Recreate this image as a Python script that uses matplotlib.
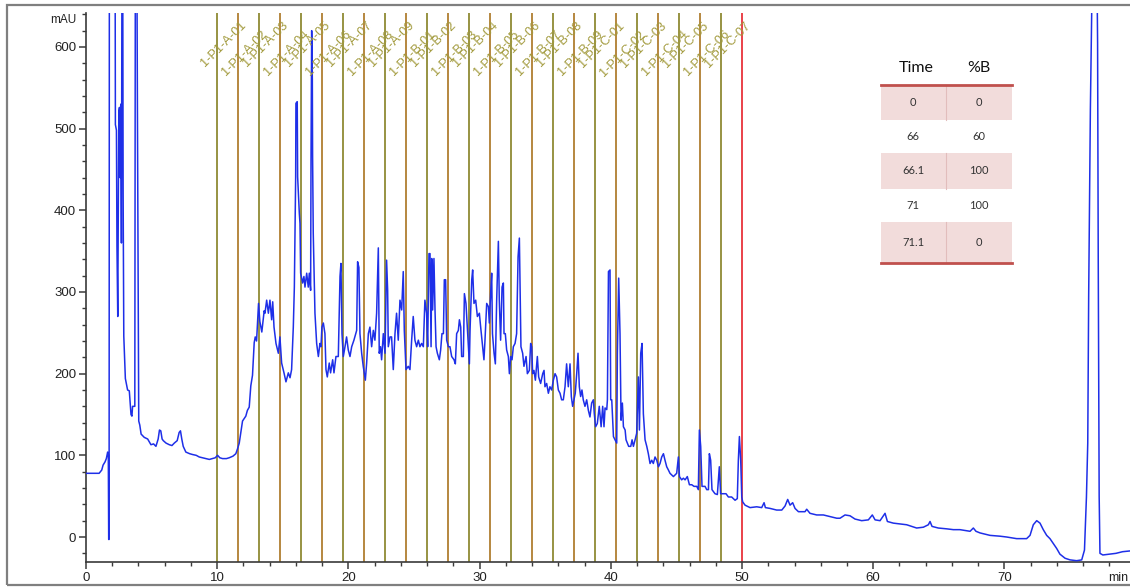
import matplotlib
matplotlib.use("Agg")
import matplotlib.pyplot as plt
from matplotlib.patches import Rectangle
from matplotlib.lines import Line2D
from matplotlib.ticker import MultipleLocator

# ---------------- data ----------------
time_min = [
    0.0, 1.0, 1.1, 1.2, 1.3, 1.45, 1.55, 1.65, 1.7, 1.73, 1.76, 1.78, 2.22, 2.24, 2.32, 2.36, 2.42, 2.45,
    2.5, 2.55, 2.6, 2.65, 2.7, 2.74, 2.8, 2.83, 2.88, 3.0, 3.17, 3.3, 3.43, 3.5, 3.55, 3.72, 3.76, 3.88,
    3.92, 3.98, 4.02, 4.1, 4.2, 4.44, 4.7, 4.95, 5.15, 5.33, 5.5, 5.6, 5.7, 5.8, 5.89, 6.1, 6.35, 6.55,
    6.73, 6.95, 7.1, 7.2, 7.3, 7.41, 7.61, 7.9, 8.12, 8.4, 8.63, 8.9, 9.14, 9.4, 9.64, 9.85, 10.03, 10.2,
    10.41, 10.7, 10.91, 11.2, 11.42, 11.55, 11.68, 11.8, 11.93, 12.05, 12.18, 12.3, 12.44, 12.56, 12.69,
    12.82, 12.9, 13.0, 13.15, 13.25, 13.4, 13.58,
    13.64, 13.77, 13.90, 14.02, 14.15, 14.23, 14.33, 14.48, 14.66, 14.78, 14.91, 15.09, 15.24, 15.42,
    15.55, 15.67, 15.80, 15.88, 15.98, 16.00, 16.10, 16.13, 16.26, 16.31, 16.36, 16.51, 16.61, 16.69,
    16.82, 16.94, 17.02, 17.12, 17.15, 17.20, 17.25, 17.27, 17.32, 17.45, 17.58, 17.71, 17.83, 17.91,
    17.98, 18.09, 18.21, 18.29, 18.39, 18.54, 18.64, 18.80, 18.90, 19.05, 19.23, 19.36, 19.43, 19.51,
    19.61, 19.74, 19.86, 19.99, 20.12, 20.25, 20.42, 20.63, 20.70, 20.80, 20.88, 21.01, 21.13, 21.29,
    21.39, 21.52, 21.64, 21.77, 21.90, 22.02, 22.15, 22.28, 22.35, 22.45, 22.53, 22.66, 22.79, 22.91,
    22.99, 23.04, 23.17, 23.29, 23.42, 23.55, 23.67, 23.80, 23.93, 24.06, 24.18, 24.26, 24.39, 24.56,
    24.69, 24.82, 24.94, 25.07, 25.20, 25.33, 25.45, 25.58, 25.71, 25.83, 25.96, 26.04, 26.14,
    26.22, 26.30, 26.35, 26.42, 26.52, 26.60, 26.68, 26.78, 26.93, 27.03, 27.13, 27.24, 27.31, 27.41,
    27.49, 27.62, 27.74, 27.87, 28.05, 28.15, 28.25, 28.38, 28.46, 28.56, 28.63, 28.76, 28.84, 28.96,
    29.06, 29.22, 29.27, 29.40, 29.47, 29.57, 29.70, 29.83, 29.98, 30.08, 30.23, 30.33, 30.41, 30.54,
    30.67, 30.74, 30.84, 30.92, 30.98, 31.10, 31.20, 31.30, 31.43, 31.50, 31.60, 31.71, 31.81, 31.86,
    31.96, 32.06, 32.19, 32.27, 32.37, 32.47, 32.57, 32.70, 32.82, 32.93, 33.03, 33.08, 33.15, 33.28,
    33.38, 33.54, 33.64, 33.79, 33.89, 33.97, 34.04, 34.14, 34.25, 34.40, 34.50, 34.65, 34.81, 34.91,
    34.98, 35.11, 35.24, 35.36, 35.49, 35.62, 35.75, 35.87, 36.00, 36.13, 36.25, 36.38, 36.51, 36.63,
    36.76, 36.89, 36.99, 37.09, 37.19, 37.29, 37.40, 37.50, 37.60, 37.70, 37.80, 37.90, 38.03, 38.16,
    38.29, 38.41, 38.54, 38.67, 38.74, 38.84, 38.97, 39.12,
    39.26, 39.38, 39.48, 39.56, 39.69, 39.74, 39.82, 39.94, 39.99, 40.07, 40.20, 40.32, 40.45, 40.50,
    40.60, 40.70, 40.78, 40.88, 40.96, 41.09, 41.16, 41.26, 41.36, 41.52, 41.62, 41.72, 41.85, 41.97,
    42.10, 42.18, 42.28, 42.38, 42.48, 42.61, 42.74, 42.86, 42.99, 43.12, 43.24, 43.37, 43.50, 43.63,
    43.75, 43.88, 44.01, 44.13, 44.26, 44.39, 44.51, 44.77, 45.02, 45.15, 45.23, 45.40, 45.53, 45.66,
    45.83, 45.99, 46.17, 46.34, 46.55, 46.67, 46.75, 46.85, 46.95, 47.18, 47.31, 47.44, 47.51, 47.61,
    47.71, 47.94, 48.12, 48.27, 48.37, 48.58, 48.78, 48.96, 49.21, 49.47, 49.64, 49.72, 49.80, 49.90,
    49.98, 50.05, 50.23, 50.48,
    50.61, 51.12, 51.50, 51.68, 51.78, 52.14, 52.64, 53.03, 53.28, 53.48, 53.66, 53.86, 54.04, 54.30,
    54.80, 54.93, 55.18, 55.69, 56.20, 56.71, 57.22, 57.47, 57.85, 58.23, 58.61, 59.12, 59.63, 59.93,
    60.14, 60.52, 60.77, 60.90, 61.08, 61.53, 62.04, 62.55, 63.31, 63.82, 64.20, 64.33, 64.48, 64.96,
    65.60, 66.11, 66.61, 67.38, 67.63, 67.83, 68.14, 68.90, 69.66, 70.17, 70.93, 71.69, 71.95, 72.20,
    72.46, 72.71, 72.96, 73.22, 73.47, 73.73, 73.98, 74.23, 74.62, 75.00, 75.50, 75.89, 76.10, 76.25,
    76.35, 76.42, 76.55, 76.70, 77.05, 77.10, 77.15, 77.22, 77.28, 77.50, 78.00, 78.50, 79.00, 79.60,
]
absorbance_mAU = [
    78, 78, 80, 82, 88, 92, 96, 104, 101, -3, -3, 700, 700, 505, 498, 356, 270, 356,
    520, 526, 440, 530, 360, 700, 700, 421, 246, 194, 180, 179, 150, 148, 160, 160, 700, 700,
    522, 300, 142, 137, 126, 122, 120, 113, 114, 111, 120, 131, 130, 120, 118, 115, 113, 112,
    115, 118, 128, 130, 120, 111, 104, 102, 101, 100, 98, 97, 96, 95, 96, 97, 100, 97,
    96, 96, 97, 99, 102, 108, 115, 128, 142, 145, 148, 155, 159, 185, 198,
    238, 245, 240, 286, 264, 251, 277,
    274, 290, 274, 290, 266, 288, 257, 237, 225, 245, 213, 201, 190, 201,
    195, 205, 257, 306, 441, 531, 533, 441, 396, 384, 323, 311, 319, 306,
    323, 306, 323, 302, 462, 620, 560, 466, 372, 274, 237, 221, 237, 233,
    257, 262, 249, 205, 196, 213, 201, 217, 201, 221, 221, 319, 335, 249,
    221, 233, 245, 229, 221, 233, 241, 253, 337, 330, 249, 225, 209, 192,
    213, 249, 257, 233, 253, 241, 274, 354, 225, 233, 217, 249, 225, 339,
    302, 233, 245, 245, 205, 249, 274, 241, 290, 278, 325, 253, 205, 209,
    205, 241, 270, 241, 233, 241, 233, 237, 233, 290, 274, 233, 347,
    347, 233, 341, 278, 341, 278, 233, 225, 217, 229, 249, 249, 315, 315,
    241, 233, 233, 221, 217, 212, 249, 253, 266, 257, 221, 221, 298, 286,
    257, 212, 253, 315, 327, 286, 290, 270, 274, 257, 233, 217, 241, 286,
    282, 262, 298, 323, 249, 225, 212, 290, 362, 290, 241, 306, 311, 249,
    249, 229, 221, 200, 221, 217, 233, 237, 249, 343, 366, 311, 233, 225,
    209, 221, 200, 204, 237, 233, 200, 204, 192, 221, 196, 188, 200, 204,
    184, 188, 176, 184, 180, 192, 200, 196, 180, 176, 168, 168, 184, 212,
    184, 212, 172, 160, 168, 176, 200, 225, 184, 172, 180, 168, 160, 168,
    155, 147, 164, 168, 151, 135, 139, 160,
    135, 160, 135, 158, 156, 168, 325, 327, 168, 168, 123, 119, 115, 225,
    317, 249, 143, 164, 135, 131, 119, 115, 111, 111, 119, 111, 119, 127,
    196, 131, 225, 237, 151, 119, 111, 102, 90, 94, 90, 98, 94, 86,
    90, 98, 102, 94, 86, 82, 78, 74, 78, 98, 74, 70, 72, 70,
    74, 64, 64, 62, 62, 58, 131, 111, 62, 62, 58, 58, 102, 94,
    58, 53, 52, 86, 53, 53, 53, 49, 49, 45, 47, 94, 123, 94,
    49, 43, 39, 37,
    36, 37, 36, 42, 36, 35, 33, 33, 38, 46, 39, 42, 35, 31,
    31, 34, 29, 27, 27, 25, 23, 23, 27, 26, 22, 20, 21, 27,
    21, 20, 26, 29, 19, 17, 16, 15, 11, 12, 15, 19, 13, 11,
    10, 9, 9, 7, 11, 7, 5, 2, 1, 0, -2, -2, 2, 15,
    20, 17, 9, 2, -2, -8, -14, -21, -26, -28, -29, -28, -16, 49,
    115, 295, 524, 700, 700, 605, 337, 50, -20, -22, -21, -20, -18, -17,
]

fraction_starts = [10.0, 11.6, 13.2, 14.8, 16.4, 18.0, 19.6, 21.2, 22.8, 24.4, 26.0, 27.6, 29.2,
                   30.8, 32.4, 34.0, 35.6, 37.2, 38.8, 40.4, 42.0, 43.6, 45.2, 46.8, 48.4]
fraction_end = 50.0
fraction_labels = ["1-P1-A-01", "1-P1-A-02", "1-P1-A-03", "1-P1-A-04", "1-P1-A-05", "1-P1-A-06",
                   "1-P1-A-07", "1-P1-A-08", "1-P1-A-09", "1-P1-B-01", "1-P1-B-02", "1-P1-B-03",
                   "1-P1-B-04", "1-P1-B-05", "1-P1-B-06", "1-P1-B-07", "1-P1-B-08", "1-P1-B-09",
                   "1-P1-C-01", "1-P1-C-02", "1-P1-C-03", "1-P1-C-04", "1-P1-C-05", "1-P1-C-06",
                   "1-P1-C-07"]

gradient_time = ["0", "66", "66.1", "71", "71.1"]
gradient_pctB = ["0", "60", "100", "100", "0"]

# ---------------- figure ----------------
W, H = 1130, 588
fig = plt.figure(figsize=(W / 100, H / 100), dpi=100)


def fx(px):
    return px / W


def fy(py):
    return 1 - py / H


ax = fig.add_axes([fx(86), fy(562), fx(W) - fx(86), fy(13) - fy(562)])
ax.set_xlim(0, 79.57)
ax.set_ylim(-30.6, 641.6)

# fraction lines
frac_colors = ["#8F8A34", "#B07E30"]
for i, t0 in enumerate(fraction_starts):
    ax.axvline(t0, color=frac_colors[i % 2], lw=1.3, zorder=2)
ax.axvline(fraction_end, color="#E8333A", lw=1.3, zorder=2)

# chromatogram
ax.plot(time_min, absorbance_mAU, color="#1E2FE8", lw=1.1, zorder=3)

# fraction labels
for i, lab in enumerate(fraction_labels):
    yv = 603 if i % 2 == 0 else 592
    ax.text(fraction_starts[i] + 0.5, yv, lab, rotation=45, ha="center", va="center",
            rotation_mode="anchor", fontsize=9.2, color="#A29A3C",
            family="Liberation Sans", zorder=4, clip_on=False)

# axes styling
for s in ["top", "right"]:
    ax.spines[s].set_visible(False)
for s in ["left", "bottom"]:
    ax.spines[s].set_color("#3A3A3A")
    ax.spines[s].set_linewidth(1.2)
ax.xaxis.set_major_locator(MultipleLocator(10))
ax.xaxis.set_minor_locator(MultipleLocator(2))
ax.yaxis.set_major_locator(MultipleLocator(100))
ax.yaxis.set_minor_locator(MultipleLocator(20))
ax.tick_params(which="major", direction="out", length=5, width=1.1, color="#3A3A3A",
               labelsize=9.5, labelcolor="#222222", pad=2)
ax.tick_params(which="minor", direction="out", length=3, width=1.0, color="#3A3A3A")
for lbl in ax.get_xticklabels() + ax.get_yticklabels():
    lbl.set_family("Liberation Sans")

fig.text(fx(76), fy(20), "mAU", ha="right", va="center", fontsize=8.5,
         family="Liberation Sans", color="#222222")
fig.text(fx(1128), fy(578), "min", ha="right", va="center", fontsize=9,
         family="Liberation Sans", color="#222222")

# outer gray frame
fig.add_artist(Rectangle((fx(7), fy(585)), 1.2, fy(5) - fy(585), transform=fig.transFigure,
                         fill=False, edgecolor="#7F7F7F", lw=1.6, clip_on=False))

# gradient table
row_edges = [85, 120, 153, 189, 222, 263]
tx0, tx1, tcol = 881, 1012, 946
for r in range(len(gradient_time)):
    top, bot = row_edges[r], row_edges[r + 1]
    if r % 2 == 0:
        fig.add_artist(Rectangle((fx(tx0), fy(bot)), fx(tx1) - fx(tx0), fy(top) - fy(bot),
                                 transform=fig.transFigure, facecolor="#F2DCDB",
                                 edgecolor="none"))
        fig.add_artist(Line2D([fx(tcol), fx(tcol)], [fy(bot), fy(top)], transform=fig.transFigure,
                              color="#E2BDBC", lw=0.8))
    yc = (top + bot) / 2
    fig.text(fx(913), fy(yc), gradient_time[r], ha="center", va="center", fontsize=8,
             family="Lato", color="#333333")
    fig.text(fx(979), fy(yc), gradient_pctB[r], ha="center", va="center", fontsize=8,
             family="Lato", color="#333333")
fig.text(fx(916), fy(68), "Time", ha="center", va="center", fontsize=11.5, family="Lato",
         color="#111111")
fig.text(fx(979), fy(68), "%B", ha="center", va="center", fontsize=11.5, family="Lato",
         color="#111111")
for yy in [84.5, 263]:
    fig.add_artist(Line2D([fx(tx0), fx(tx1)], [fy(yy), fy(yy)], transform=fig.transFigure,
                          color="#C0504D", lw=2.0))

fig.savefig("out.png", dpi=100)
